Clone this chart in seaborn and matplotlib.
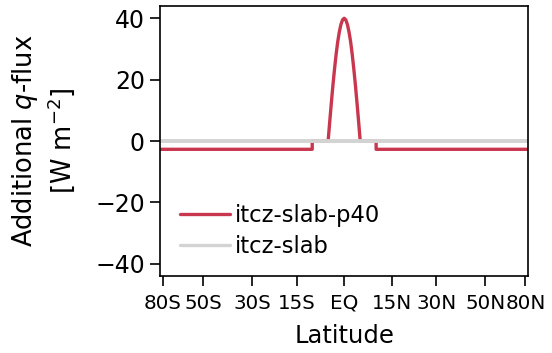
import numpy as np
import pandas as pd
import seaborn as sns
import matplotlib.pyplot as plt

# Latitude points (degrees) and q-flux values
LAT_P40 = [-90, -10, -10, -5, -4.5, -4, -3.5, -3, -2.5, -2, -1.5, -1, -0.5, 0,
           0.5, 1, 1.5, 2, 2.5, 3, 3.5, 4, 4.5, 5, 10, 10, 90]
QFLUX_P40 = [-2.7, -2.7, 0, 0, 6.3, 12.4, 18.2, 23.5, 28.3, 32.4, 35.6, 38.0, 39.5, 40.0,
             39.5, 38.0, 35.6, 32.4, 28.3, 23.5, 18.2, 12.4, 6.3, 0, 0, -2.7, -2.7]
LAT_CTRL = [-90, 90]
QFLUX_CTRL = [0, 0]

SERIES = ["itcz-slab-p40", "itcz-slab"]
COLORS = ["#c9374f", "#d3d3d3"]

XTICKS = [-80, -50, -30, -15, 0, 15, 30, 50, 80]
XTICKLABELS = ["80S", "50S", "30S", "15S", "EQ", "15N", "30N", "50N", "80N"]
YTICKS = [-40, -20, 0, 20, 40]


def _fwd(x):
    return np.sin(np.deg2rad(x))


def _inv(y):
    return np.rad2deg(np.arcsin(np.clip(y, -1, 1)))


df = pd.concat([
    pd.DataFrame({"lat": LAT_P40, "qflux": QFLUX_P40, "exp": SERIES[0]}),
    pd.DataFrame({"lat": LAT_CTRL, "qflux": QFLUX_CTRL, "exp": SERIES[1]}),
])

sns.set_style("ticks")
plt.rcParams.update({"text.color": "black", "axes.labelcolor": "black",
                     "xtick.color": "black", "ytick.color": "black"})
fig = plt.figure(figsize=(5.52, 3.53), dpi=100)
ax = fig.add_axes([0.29, 0.218, 0.667, 0.765])

sns.lineplot(data=df, x="lat", y="qflux", hue="exp", palette=COLORS,
             sort=False, estimator=None, units="exp", linewidth=2.4, ax=ax)
# control line (the 2-point one) sits on top of the perturbed one;
# no pixel snapping so the two overlap exactly along zero
for ln in ax.lines:
    ln.set_snap(False)
    if len(ln.get_xdata()) == len(LAT_CTRL):
        ln.set_zorder(3)
        ln.set_linewidth(2.8)
    else:
        ln.set_zorder(2)

ax.set_xscale("function", functions=(_fwd, _inv))
ax.set_xlim(-90, 90)
ax.set_ylim(-44, 44)
ax.set_xticks(XTICKS)
ax.set_xticklabels(XTICKLABELS)
ax.set_yticks(YTICKS)
ax.set_yticklabels([f"{v:d}".replace("-", "\u2212") for v in YTICKS])
ax.tick_params(axis="both", direction="out", length=7, width=1.2)
ax.tick_params(axis="x", pad=16.5, labelsize=14.3)
ax.tick_params(axis="y", pad=4, labelsize=17)
# baseline alignment so "EQ" (descender in Q) lines up with the others
for lbl in ax.get_xticklabels():
    lbl.set_verticalalignment("baseline")
for s in ax.spines.values():
    s.set_linewidth(1.2)
    s.set_color("black")
    s.set_zorder(4)

ax.set_xlabel("Latitude", fontsize=17.5, labelpad=8)
ax.set_ylabel("Additional $q$-flux\n[W m$^{-2}$]", fontsize=18.5, labelpad=13)

ax.legend(frameon=False, loc="lower left", bbox_to_anchor=(0.0, -0.01),
          fontsize=16.3, handlelength=2.2, handletextpad=0.2, labelspacing=0.36)

plt.savefig("out.png", dpi=100)
